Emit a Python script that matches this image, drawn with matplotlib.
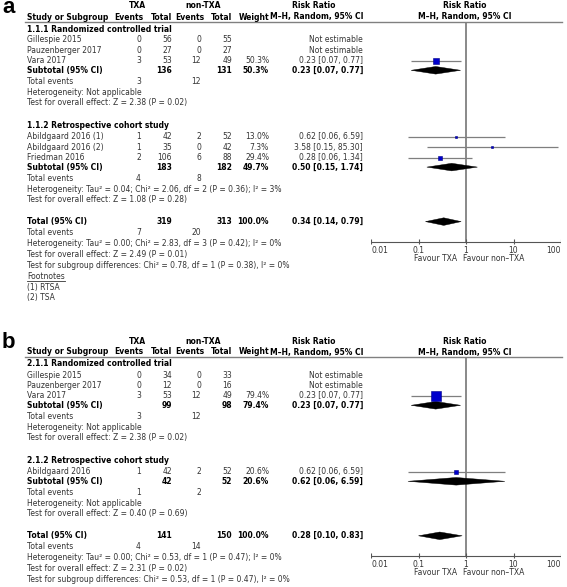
import matplotlib.pyplot as plt
from matplotlib.patches import Polygon

W, H = 567, 587
FS = 5.5
GREY = '#333333'

# ---- panel a ----
a_study = ["Gillespie 2015", "Pauzenberger 2017", "Vara 2017",
           "Abildgaard 2016 (1)", "Abildgaard 2016 (2)", "Friedman 2016"]
a_group = [0, 0, 0, 1, 1, 1]
a_txa_ev = [0, 0, 3, 1, 1, 2]
a_txa_n = [56, 27, 53, 42, 35, 106]
a_non_ev = [0, 0, 12, 2, 0, 6]
a_non_n = [55, 27, 49, 52, 42, 88]
a_weight = [None, None, 50.3, 13.0, 7.3, 29.4]
a_rr = [None, None, 0.23, 0.62, 3.58, 0.28]
a_lo = [None, None, 0.07, 0.06, 0.15, 0.06]
a_hi = [None, None, 0.77, 6.59, 85.30, 1.34]

a_sub_name = ["1.1.1 Randomized controlled trial", "1.1.2 Retrospective cohort study"]
a_sub_txa_n = [136, 183]
a_sub_non_n = [131, 182]
a_sub_weight = [50.3, 49.7]
a_sub_rr = [0.23, 0.50]
a_sub_lo = [0.07, 0.15]
a_sub_hi = [0.77, 1.74]
a_sub_txa_ev = [3, 4]
a_sub_non_ev = [12, 8]
a_sub_het = ["Not applicable",
             "Tau\u00b2 = 0.04; Chi\u00b2 = 2.06, df = 2 (P = 0.36); I\u00b2 = 3%"]
a_sub_z = ["Z = 2.38 (P = 0.02)", "Z = 1.08 (P = 0.28)"]

a_tot = [319, 313, 100.0, 0.34, 0.14, 0.79, 7, 20]
a_tot_het = "Tau\u00b2 = 0.00; Chi\u00b2 = 2.83, df = 3 (P = 0.42); I\u00b2 = 0%"
a_tot_z = "Z = 2.49 (P = 0.01)"
a_subdiff = "Chi\u00b2 = 0.78, df = 1 (P = 0.38), I\u00b2 = 0%"
a_notes = ["(1) RTSA", "(2) TSA"]

# ---- panel b ----
b_study = ["Gillespie 2015", "Pauzenberger 2017", "Vara 2017", "Abildgaard 2016"]
b_group = [0, 0, 0, 1]
b_txa_ev = [0, 0, 3, 1]
b_txa_n = [34, 12, 53, 42]
b_non_ev = [0, 0, 12, 2]
b_non_n = [33, 16, 49, 52]
b_weight = [None, None, 79.4, 20.6]
b_rr = [None, None, 0.23, 0.62]
b_lo = [None, None, 0.07, 0.06]
b_hi = [None, None, 0.77, 6.59]

b_sub_name = ["2.1.1 Randomized controlled trial", "2.1.2 Retrospective cohort study"]
b_sub_txa_n = [99, 42]
b_sub_non_n = [98, 52]
b_sub_weight = [79.4, 20.6]
b_sub_rr = [0.23, 0.62]
b_sub_lo = [0.07, 0.06]
b_sub_hi = [0.77, 6.59]
b_sub_txa_ev = [3, 1]
b_sub_non_ev = [12, 2]
b_sub_het = ["Not applicable", "Not applicable"]
b_sub_z = ["Z = 2.38 (P = 0.02)", "Z = 0.40 (P = 0.69)"]

b_tot = [141, 150, 100.0, 0.28, 0.10, 0.83, 4, 14]
b_tot_het = "Tau\u00b2 = 0.00; Chi\u00b2 = 0.53, df = 1 (P = 0.47); I\u00b2 = 0%"
b_tot_z = "Z = 2.31 (P = 0.02)"
b_subdiff = "Chi\u00b2 = 0.53, df = 1 (P = 0.47), I\u00b2 = 0%"
b_notes = []

ticks = [0.01, 0.1, 1, 10, 100]
tick_labels = ["0.01", "0.1", "1", "10", "100"]

panels = [
    dict(letter='a', top=29, study=a_study, group=a_group, tev=a_txa_ev, tn=a_txa_n,
         cev=a_non_ev, cn=a_non_n, wt=a_weight, rr=a_rr, lo=a_lo, hi=a_hi,
         sname=a_sub_name, stn=a_sub_txa_n, scn=a_sub_non_n, swt=a_sub_weight,
         srr=a_sub_rr, slo=a_sub_lo, shi=a_sub_hi, stev=a_sub_txa_ev, scev=a_sub_non_ev,
         shet=a_sub_het, sz=a_sub_z, tot=a_tot, thet=a_tot_het, tz=a_tot_z,
         diff=a_subdiff, notes=a_notes),
    dict(letter='b', top=364, study=b_study, group=b_group, tev=b_txa_ev, tn=b_txa_n,
         cev=b_non_ev, cn=b_non_n, wt=b_weight, rr=b_rr, lo=b_lo, hi=b_hi,
         sname=b_sub_name, stn=b_sub_txa_n, scn=b_sub_non_n, swt=b_sub_weight,
         srr=b_sub_rr, slo=b_sub_lo, shi=b_sub_hi, stev=b_sub_txa_ev, scev=b_sub_non_ev,
         shet=b_sub_het, sz=b_sub_z, tot=b_tot, thet=b_tot_het, tz=b_tot_z,
         diff=b_subdiff, notes=b_notes),
]

# column right edges (pixels)
X_STUDY = 27
X_TEV, X_TN, X_CEV, X_CN, X_WT, X_RR = 141, 172, 201, 232, 269, 363

fig = plt.figure(figsize=(W / 100, H / 100), dpi=100)
ax = fig.add_axes([0, 0, 1, 1])
ax.set_xlim(0, W)
ax.set_ylim(H, 0)
ax.axis('off')

fax = fig.add_axes([371 / W, 0, (561 - 371) / W, 1])
fax.set_xscale('log')
fax.set_xlim(0.01, 100)
fax.set_ylim(H, 0)
fax.axis('off')
fax.patch.set_visible(False)


def txt(x, y, s, ha='left', bold=False, color=None, size=FS):
    return ax.text(x, y, s, ha=ha, va='center', fontsize=size,
                   fontweight='bold' if bold else 'normal',
                   color=color or ('black' if bold else GREY))


def fmt_rr(r, l, h):
    return f"{r:.2f} [{l:.2f}, {h:.2f}]"


def diamond(r, l, h, y, hh=3.8):
    fax.add_patch(Polygon([(l, y), (r, y - hh), (h, y), (r, y + hh)],
                          closed=True, facecolor='black', edgecolor='black',
                          lw=0.3, zorder=4))


for p in panels:
    top = p['top']
    line_y = top - 7.5
    # header
    ax.text(2, top - 16, p['letter'], ha='left', va='baseline', fontsize=16,
            fontweight='bold', family='Liberation Sans')
    txt(137, top - 23, "TXA", ha='center', bold=True)
    txt(203, top - 23, "non-TXA", ha='center', bold=True)
    txt(314, top - 23, "Risk Ratio", ha='center', bold=True)
    txt(465, top - 23, "Risk Ratio", ha='center', bold=True)
    txt(X_STUDY, top - 12, "Study or Subgroup", bold=True)
    txt(X_TEV + 2, top - 12, "Events", ha='right', bold=True)
    txt(X_TN, top - 12, "Total", ha='right', bold=True)
    txt(X_CEV + 3, top - 12, "Events", ha='right', bold=True)
    txt(X_CN, top - 12, "Total", ha='right', bold=True)
    txt(X_WT, top - 12, "Weight", ha='right', bold=True)
    txt(X_RR, top - 12, "M\u2013H, Random, 95% CI", ha='right', bold=True)
    txt(465, top - 12, "M\u2013H, Random, 95% CI", ha='center', bold=True)
    ax.plot([25, 562], [line_y, line_y], color='#808080', lw=1.0)

    y = top
    for g, name in enumerate(p['sname']):
        txt(X_STUDY, y, name, bold=True)
        y += 11
        idx = [i for i, gg in enumerate(p['group']) if gg == g]
        for k, i in enumerate(idx):
            if k > 0:
                y += 10.4
            txt(X_STUDY, y, p['study'][i])
            txt(X_TEV, y, str(p['tev'][i]), ha='right')
            txt(X_TN, y, str(p['tn'][i]), ha='right')
            txt(X_CEV, y, str(p['cev'][i]), ha='right')
            txt(X_CN, y, str(p['cn'][i]), ha='right')
            if p['rr'][i] is None:
                txt(X_RR, y, "Not estimable", ha='right')
            else:
                w = p['wt'][i]
                txt(X_WT, y, f"{w:.1f}%", ha='right')
                txt(X_RR, y, fmt_rr(p['rr'][i], p['lo'][i], p['hi'][i]), ha='right')
                fax.hlines(y, p['lo'][i], p['hi'][i], color='#7f7f7f', lw=0.9, zorder=3)
                side = (0.12 * w + 0.6) * 0.72
                fax.scatter([p['rr'][i]], [y], marker='s', s=side ** 2,
                            color='#0000cc', edgecolor='#000088', lw=0.4, zorder=5)
        y += 9.5
        txt(X_STUDY, y, "Subtotal (95% CI)", bold=True)
        txt(X_TN, y, str(p['stn'][g]), ha='right', bold=True)
        txt(X_CN, y, str(p['scn'][g]), ha='right', bold=True)
        txt(X_WT, y, f"{p['swt'][g]:.1f}%", ha='right', bold=True)
        txt(X_RR, y, fmt_rr(p['srr'][g], p['slo'][g], p['shi'][g]), ha='right', bold=True)
        diamond(p['srr'][g], p['slo'][g], p['shi'][g], y)
        y += 11.5
        txt(X_STUDY, y, "Total events")
        txt(X_TEV, y, str(p['stev'][g]), ha='right')
        txt(X_CEV, y, str(p['scev'][g]), ha='right')
        y += 10.5
        txt(X_STUDY, y, "Heterogeneity: " + p['shet'][g])
        y += 10.5
        txt(X_STUDY, y, "Test for overall effect: " + p['sz'][g])
        y += 23 if g < len(p['sname']) - 1 else 22

    tn, cn, tw, tr, tl, th, tev, cev = p['tot']
    txt(X_STUDY, y, "Total (95% CI)", bold=True)
    txt(X_TN, y, str(tn), ha='right', bold=True)
    txt(X_CN, y, str(cn), ha='right', bold=True)
    txt(X_WT, y, f"{tw:.1f}%", ha='right', bold=True)
    txt(X_RR, y, fmt_rr(tr, tl, th), ha='right', bold=True)
    diamond(tr, tl, th, y)
    axis_y = y + 20
    y += 11
    txt(X_STUDY, y, "Total events")
    txt(X_TEV, y, str(tev), ha='right')
    txt(X_CEV, y, str(cev), ha='right')
    for s in ["Heterogeneity: " + p['thet'], "Test for overall effect: " + p['tz'],
              "Test for subgroup differences: " + p['diff']]:
        y += 11
        txt(X_STUDY, y, s)
    if p['notes']:
        y += 11
        t = txt(X_STUDY, y, "Footnotes")
        fig.canvas.draw()
        bb = t.get_window_extent().transformed(ax.transData.inverted())
        ax.plot([bb.x0, bb.x1], [y + 4, y + 4], color=GREY, lw=0.6)
        for n in p['notes']:
            y += 10.5
            txt(X_STUDY, y, n)

    # forest axis
    fax.vlines(1, line_y, axis_y, color='#808080', lw=1.3, zorder=2)
    fax.plot([0.01, 100], [axis_y, axis_y], color='#555555', lw=0.8)
    fax.vlines(ticks, axis_y - 2.5, axis_y + 2.5, color='#555555', lw=0.8)
    for k, (tk, lb) in enumerate(zip(ticks, tick_labels)):
        ha = 'left' if k == 0 else ('right' if k == len(ticks) - 1 else 'center')
        fax.text(tk, axis_y + 8.5, lb, ha=ha, va='center', fontsize=FS, color=GREY)
    fax.text(0.65, axis_y + 17, "Favour TXA", ha='right', va='center', fontsize=FS, color=GREY)
    fax.text(0.85, axis_y + 17, "Favour non\u2013TXA", ha='left', va='center', fontsize=FS, color=GREY)

fig.savefig('out.png', dpi=100)
